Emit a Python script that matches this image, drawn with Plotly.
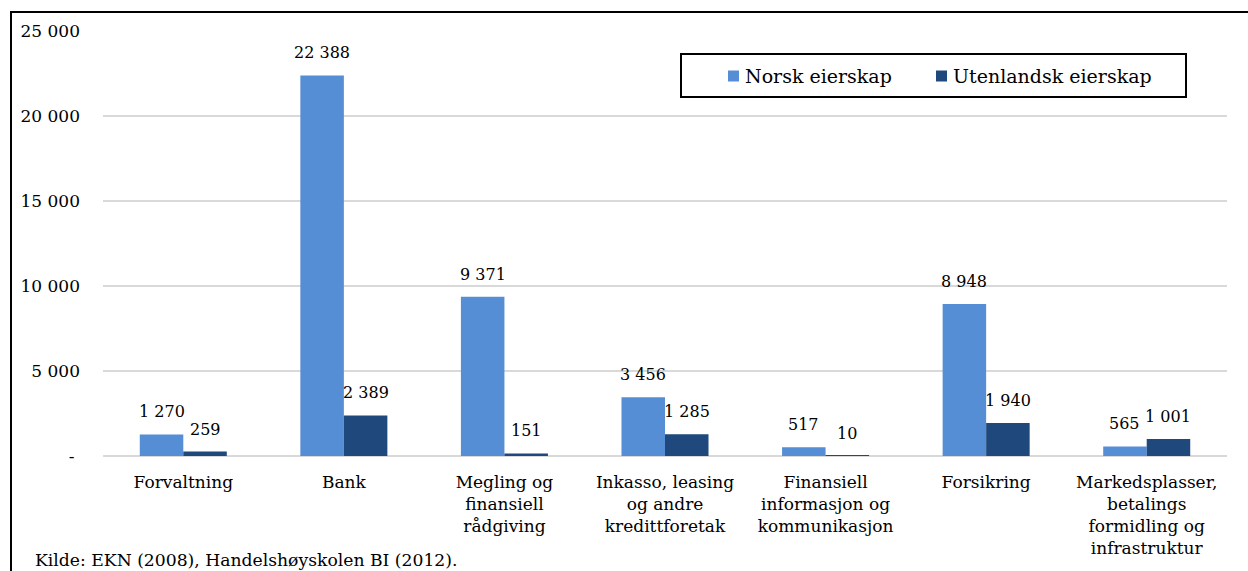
import plotly.graph_objects as go

# Categories (sectors) and employment by ownership
categories = [
    "Forvaltning",
    "Bank",
    "Megling og<br>finansiell<br>rådgiving",
    "Inkasso, leasing<br>og andre<br>kredittforetak",
    "Finansiell<br>informasjon og<br>kommunikasjon",
    "Forsikring",
    "Markedsplasser,<br>betalings<br>formidling og<br>infrastruktur",
]
norsk = [1270, 22388, 9371, 3456, 517, 8948, 565]
utenlandsk = [259, 2389, 151, 1285, 10, 1940, 1001]

series_names = ["Norsk eierskap", "Utenlandsk eierskap"]
colors = ["#558ed5", "#1f497d"]

y_tickvals = [0, 5000, 10000, 15000, 20000, 25000]
y_ticktext = ["-\u00a0", "5 000", "10 000", "15 000", "20 000", "25 000"]

FONT = "DejaVu Serif"

L, R, T, B = 103, 21, 31, 115
W, H = 1248, 571
plot_w = W - L - R
plot_h = H - T - B


def px_x(px):
    """pixel column -> paper x"""
    return (px - L) / plot_w


def px_y(py):
    """pixel row -> paper y"""
    return (H - B - py) / plot_h


bargap = 0.458

fig = go.Figure()
for name, vals, col in zip(series_names, [norsk, utenlandsk], colors):
    fig.add_trace(go.Bar(
        x=categories, y=vals, name=name,
        marker=dict(color=col, line=dict(width=0)),
    ))


def fmt(v):
    return f"{v:,}".replace(",", " ")


# value labels above each bar
slot = plot_w / len(categories)
bar_w = slot * (1 - bargap) / 2
for i, vals in enumerate([norsk, utenlandsk]):
    shift = (-0.5 if i == 0 else 0.5) * bar_w
    for c, v in zip(categories, vals):
        fig.add_annotation(
            x=c, y=v, xref="x", yref="y", text=fmt(v),
            showarrow=False, xshift=shift, yanchor="bottom", yshift=11,
            font=dict(family=FONT, size=16, color="#000000"),
        )

# source note
fig.add_annotation(
    x=px_x(33), y=px_y(560), xref="paper", yref="paper",
    xanchor="left", yanchor="middle", showarrow=False,
    text="Kilde: EKN (2008), Handelshøyskolen BI (2012).",
    font=dict(family=FONT, size=17.2, color="#000000"),
)

# outer frame
fig.add_shape(
    type="rect", xref="paper", yref="paper",
    x0=px_x(11), x1=1.2, y0=-0.6, y1=px_y(12),
    line=dict(color="#000000", width=2), fillcolor="rgba(0,0,0,0)", layer="above",
)

# legend: framed box with a swatch and label per series
fig.add_shape(
    type="rect", xref="paper", yref="paper",
    x0=px_x(681), x1=px_x(1186), y0=px_y(97), y1=px_y(54),
    line=dict(color="#000000", width=2), fillcolor="#ffffff", layer="below",
)
legend_swatch_x = [728, 936]
for name, col, sx in zip(series_names, colors, legend_swatch_x):
    fig.add_shape(
        type="rect", xref="paper", yref="paper",
        x0=px_x(sx), x1=px_x(sx + 11), y0=px_y(81.5), y1=px_y(70.5),
        line=dict(width=0), fillcolor=col, layer="above",
    )
    fig.add_annotation(
        x=px_x(sx + 15), y=px_y(76), xref="paper", yref="paper",
        xanchor="left", yanchor="middle", showarrow=False, text=name,
        font=dict(family=FONT, size=19, color="#000000"),
    )

fig.update_layout(
    width=W, height=H,
    margin=dict(l=L, r=R, t=T, b=B, autoexpand=False),
    paper_bgcolor="#ffffff", plot_bgcolor="rgba(0,0,0,0)",
    barmode="group", bargap=bargap, bargroupgap=0,
    font=dict(family=FONT, size=17, color="#000000"),
    showlegend=False,
    xaxis=dict(
        showgrid=False, showline=False, ticks="", zeroline=False,
        tickfont=dict(family=FONT, size=17, color="#000000"),
        tickangle=0,
        ticklabelstandoff=14, automargin=False,
        fixedrange=True,
    ),
    yaxis=dict(
        range=[0, 25000], tickvals=y_tickvals, ticktext=y_ticktext,
        showgrid=True, gridcolor="#d9d9d9", gridwidth=1.5,
        zeroline=True, zerolinecolor="#d9d9d9", zerolinewidth=1.5,
        showline=False, ticks="",
        tickfont=dict(family=FONT, size=17, color="#000000"),
        ticklabelstandoff=22, automargin=False,
        fixedrange=True,
    ),
)

fig.write_html("out.html")
